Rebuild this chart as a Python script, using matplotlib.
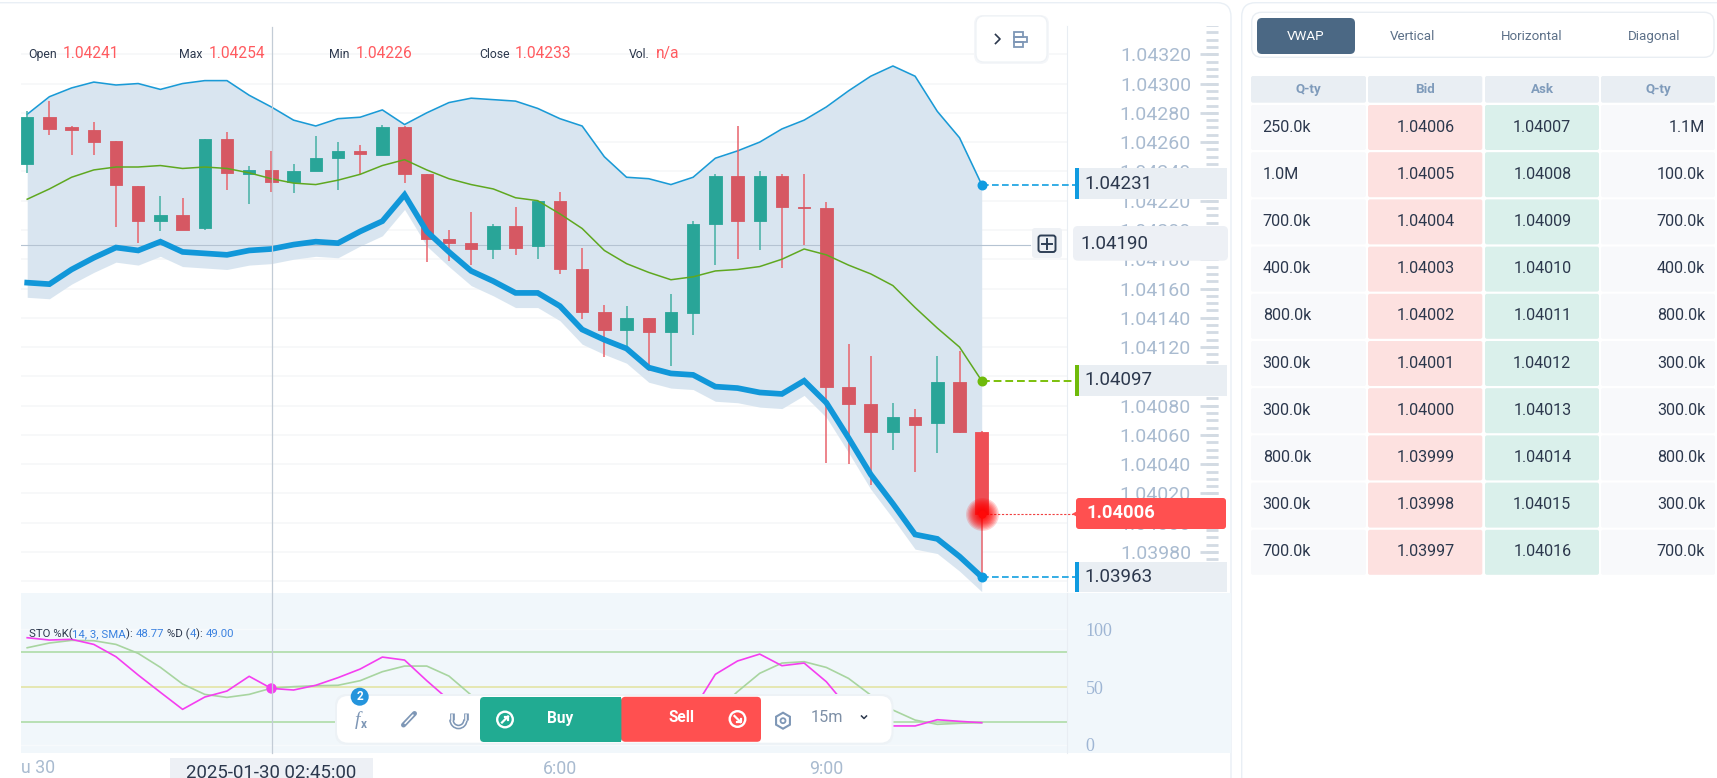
import numpy as np
import matplotlib
matplotlib.use('Agg')
import matplotlib.pyplot as plt
from matplotlib.patches import FancyBboxPatch, Rectangle, Circle, Arc, RegularPolygon

plt.rcParams['font.family'] = ['Roboto', 'DejaVu Sans']

# 15 minute candles, index 0 is 00:00
opens = [1.04245, 1.04277, 1.04270, 1.04268, 1.04261, 1.04230, 1.04206, 1.04210, 1.04201, 1.04262, 1.04238,
         1.04241, 1.04233, 1.04240, 1.04249, 1.04254, 1.04251, 1.04270, 1.04238, 1.04194, 1.04191, 1.04187,
         1.04203, 1.04189, 1.04220, 1.04173, 1.04144, 1.04132, 1.04140, 1.04130, 1.04143, 1.04204, 1.04237,
         1.04206, 1.04237, 1.04216, 1.04215, 1.04093, 1.04081, 1.04062, 1.04072, 1.04068, 1.04096, 1.04062]
closes = [1.04277, 1.04269, 1.04268, 1.04260, 1.04231, 1.04206, 1.04210, 1.04200, 1.04262, 1.04239, 1.04241,
          1.04233, 1.04240, 1.04249, 1.04254, 1.04252, 1.04270, 1.04238, 1.04194, 1.04191, 1.04187, 1.04203,
          1.04188, 1.04220, 1.04173, 1.04144, 1.04132, 1.04140, 1.04130, 1.04144, 1.04204, 1.04237, 1.04206,
          1.04237, 1.04216, 1.04215, 1.04093, 1.04081, 1.04062, 1.04072, 1.04067, 1.04096, 1.04062, 1.04006]
highs = [1.04281, 1.04288, 1.04271, 1.04274, 1.04261, 1.04230, 1.04223, 1.04222, 1.04262, 1.04267, 1.04244,
         1.04254, 1.04245, 1.04264, 1.04260, 1.04258, 1.04272, 1.04271, 1.04238, 1.04200, 1.04212, 1.04204,
         1.04216, 1.04220, 1.04226, 1.04188, 1.04149, 1.04148, 1.04140, 1.04156, 1.04206, 1.04238, 1.04271,
         1.04240, 1.04238, 1.04238, 1.04219, 1.04122, 1.04114, 1.04082, 1.04078, 1.04114, 1.04117, 1.04063]
lows = [1.04239, 1.04265, 1.04251, 1.04251, 1.04202, 1.04191, 1.04199, 1.04200, 1.04200, 1.04227, 1.04218,
        1.04226, 1.04225, 1.04240, 1.04227, 1.04238, 1.04251, 1.04232, 1.04178, 1.04179, 1.04176, 1.04180,
        1.04183, 1.04180, 1.04170, 1.04139, 1.04113, 1.04121, 1.04104, 1.04107, 1.04128, 1.04176, 1.04180,
        1.04186, 1.04174, 1.04190, 1.04041, 1.04040, 1.04026, 1.04050, 1.04035, 1.04048, 1.04061, 1.03963]

vwap_upper = [1.04279, 1.04291, 1.04297, 1.04301, 1.04299, 1.04300, 1.04296, 1.04300, 1.04302, 1.04302, 1.04292,
              1.04284, 1.04275, 1.04271, 1.04276, 1.04277, 1.04282, 1.04272, 1.04280, 1.04287, 1.04290, 1.04289,
              1.04288, 1.04283, 1.04276, 1.04271, 1.04250, 1.04236, 1.04235, 1.04231, 1.04236, 1.04249, 1.04254,
              1.04260, 1.04269, 1.04275, 1.04284, 1.04295, 1.04305, 1.04312, 1.04305, 1.04281, 1.04263, 1.04231]
vwap_mid = [1.04221, 1.04228, 1.04236, 1.04241, 1.04243, 1.04243, 1.04244, 1.04242, 1.04243, 1.04242, 1.04239,
            1.04235, 1.04232, 1.04231, 1.04234, 1.04238, 1.04244, 1.04248, 1.04241, 1.04235, 1.04231, 1.04228,
            1.04222, 1.04220, 1.04211, 1.04201, 1.04186, 1.04177, 1.04171, 1.04166, 1.04168, 1.04172, 1.04173,
            1.04175, 1.04180, 1.04187, 1.04183, 1.04176, 1.04170, 1.04162, 1.04147, 1.04133, 1.04120, 1.04097]
vwap_lower = [1.04164, 1.04163, 1.04173, 1.04181, 1.04188, 1.04186, 1.04192, 1.04185, 1.04184, 1.04183, 1.04186,
              1.04187, 1.04190, 1.04192, 1.04191, 1.04199, 1.04206, 1.04224, 1.04199, 1.04185, 1.04172, 1.04165,
              1.04157, 1.04157, 1.04148, 1.04132, 1.04125, 1.04119, 1.04106, 1.04102, 1.04101, 1.04093, 1.04092,
              1.04089, 1.04088, 1.04097, 1.04082, 1.04058, 1.04033, 1.04013, 1.03992, 1.03989, 1.03977, 1.03963]
band_floor = [1.04154, 1.04153, 1.04163, 1.04171, 1.04178, 1.04176, 1.04182, 1.04175, 1.04174, 1.04173, 1.04176,
              1.04177, 1.04180, 1.04182, 1.04181, 1.04189, 1.04196, 1.04214, 1.04189, 1.04175, 1.04162, 1.04155,
              1.04147, 1.04147, 1.04138, 1.04122, 1.04115, 1.04109, 1.04096, 1.04092, 1.04091, 1.04083, 1.04082,
              1.04079, 1.04078, 1.04087, 1.04072, 1.04048, 1.04023, 1.04003, 1.03982, 1.03979, 1.03967, 1.03953]

sto_k = [92.8, 90.8, 91.4, 87.0, 76.3, 60.4, 45.4, 30.6, 41.3, 46.5, 59.3, 48.77, 47.4, 51.5, 58.1, 65.6, 76.0, 73.4,
         55.5, 38.7, 28, 22, 20, 18, 18, 15, 14, 18, 20, 22, 30, 61.0, 72.6, 78.6, 68.5, 70.8, 54.6, 31.5, 20, 16.2,
         16.2, 21.6, 20.2, 19.0]
sto_d = [84.1, 88.2, 90.5, 90.2, 87.0, 79.2, 67.1, 52.6, 43.6, 41.0, 43.6, 49.0, 50.3, 51.1, 51.5, 55.5, 63.3, 68.2,
         68.2, 59.5, 43.0, 36, 30, 26, 22, 20, 18, 17, 17, 18, 20, 28, 46.0, 61.9, 70.8, 72.0, 67.0, 57.5, 43.0, 30.0,
         21.3, 17.6, 18.5, 19.0]

price_ticks = [1.0396, 1.0398, 1.0400, 1.0402, 1.0404, 1.0406, 1.0408, 1.0410, 1.0412, 1.0414, 1.0416, 1.0418,
               1.0420, 1.0422, 1.0424, 1.0426, 1.0428, 1.0430, 1.0432]
crosshair_idx = 11
crosshair_price = 1.04190
current_price = 1.04006

header_labels = ['Open', 'Max', 'Min', 'Close', 'Vol.']
header_values = ['1.04241', '1.04254', '1.04226', '1.04233', 'n/a']

tab_names = ['VWAP', 'Vertical', 'Horizontal', 'Diagonal']
table_cols = ['Q-ty', 'Bid', 'Ask', 'Q-ty']
bid_qty = ['250.0k', '1.0M', '700.0k', '400.0k', '800.0k', '300.0k', '300.0k', '800.0k', '300.0k', '700.0k']
bid_px = ['1.04006', '1.04005', '1.04004', '1.04003', '1.04002', '1.04001', '1.04000', '1.03999', '1.03998', '1.03997']
ask_px = ['1.04007', '1.04008', '1.04009', '1.04010', '1.04011', '1.04012', '1.04013', '1.04014', '1.04015', '1.04016']
ask_qty = ['1.1M', '100.0k', '700.0k', '400.0k', '800.0k', '300.0k', '300.0k', '800.0k', '300.0k', '700.0k']

W, H = 1717, 778
DARK = '#2c384d'
AXIS_TXT = '#a9bbd0'
ICON = '#7e97b6'
RED = '#d65863'
GREEN = '#29a598'
BLUE = '#1197d9'
LIME = '#5fa820'


def frac(x0, y0, x1, y1):
    return [x0 / W, 1 - y1 / H, (x1 - x0) / W, (y1 - y0) / H]


fig = plt.figure(figsize=(W / 100, H / 100), dpi=100, facecolor='white')

# page background, in pixels
bg = fig.add_axes([0, 0, 1, 1], zorder=0)
bg.set_xlim(0, W)
bg.set_ylim(H, 0)
bg.axis('off')

# everything that floats above the chart, in pixels
ui = fig.add_axes([0, 0, 1, 1], zorder=10)
ui.set_xlim(0, W)
ui.set_ylim(H, 0)
ui.axis('off')
ui.patch.set_alpha(0)


def rbox(axis, x0, y0, x1, y1, color, r=4, **kw):
    box = FancyBboxPatch((x0 + r, y0 + r), x1 - x0 - 2 * r, y1 - y0 - 2 * r,
                         boxstyle=f'round,pad={r},rounding_size={r}', fc=color,
                         ec=kw.pop('ec', 'none'), lw=kw.pop('lw', 0), **kw)
    axis.add_patch(box)
    return box


rbox(bg, -20, 2.7, 1231, 820, 'white', r=14, ec='#e9eff5', lw=1)
rbox(bg, 1241.7, 2.7, 1760, 820, 'white', r=14, ec='#e9eff5', lw=1)
bg.add_patch(Rectangle((21, 592.7), 1210, 160.3, fc='#f1f7fb', ec='none'))

# price panel
idx = np.arange(len(opens))
opens_a, closes_a = np.array(opens), np.array(closes)
up = closes_a >= opens_a

ax = fig.add_axes(frac(21, 26.3, 1066.5, 591.3), zorder=1)
ax.patch.set_alpha(0)
ax.set_xlim(-0.279, 46.82)
ax.set_ylim(1.039532, 1.043391)
for s in ['top', 'left', 'bottom']:
    ax.spines[s].set_visible(False)
ax.spines['right'].set_color('#e8edf3')
ax.set_xticks([])
ax.yaxis.tick_right()
ax.set_yticks(price_ticks, [f'{p:.5f}' for p in price_ticks])
ax.tick_params(axis='y', length=0, pad=89.6, labelsize=14, labelcolor=AXIS_TXT)
for lbl in ax.get_yticklabels():
    lbl.set_ha('right')
ax.grid(axis='y', color='#f5f6f8', lw=1.1, zorder=0)
ax.set_axisbelow(True)

ax.fill_between(idx, vwap_upper, band_floor, color='#d8e5f0', alpha=0.97, lw=0, zorder=1)
ax.axhline(crosshair_price, color='#b5c3d2', lw=0.8, zorder=2, xmax=0.965)
ax.plot(idx, vwap_upper, color='#1a9ad6', lw=1.15, zorder=3)
colors = [GREEN if u else RED for u in up]
colors[-1] = '#ee4f55'
wick_colors = ['#45b0a4' if u else '#e8636c' for u in up]
ax.vlines(idx, lows, highs, colors=wick_colors, lw=1.1, zorder=4)
ax.bar(idx, closes_a - opens_a, bottom=opens_a, width=0.56, color=colors, lw=0.6, edgecolor=colors,
       capstyle='round', joinstyle='round', zorder=5)
ax.plot(idx, vwap_mid, color=LIME, lw=1.1, zorder=6)
ax.plot(idx, vwap_lower, color=BLUE, lw=4.1, solid_joinstyle='miter', zorder=6)

# connectors to the axis boxes
last = idx[-1]
box_x = 47.2
ax.plot([last, box_x], [vwap_upper[-1]] * 2, color='#12a0e0', lw=1.2, dashes=(4, 2), clip_on=False, zorder=6)
ax.plot([last, box_x], [vwap_mid[-1]] * 2, color='#7cc00c', lw=1.4, dashes=(4, 2), clip_on=False, zorder=6)
ax.plot([last, box_x], [vwap_lower[-1]] * 2, color='#12a0e0', lw=1.2, dashes=(4, 2), clip_on=False, zorder=6)
ax.plot([last, box_x], [current_price] * 2, color='#f04040', lw=0.8, dashes=(2, 1.5), clip_on=False, zorder=6)
ax.scatter([last], [vwap_upper[-1]], s=38, color='#0f9be0', zorder=7, clip_on=False)
ax.scatter([last], [vwap_mid[-1]], s=38, color='#6fba0a', zorder=7, clip_on=False)
ax.scatter([last], [vwap_lower[-1]], s=38, color='#0f9be0', zorder=7, clip_on=False)
# glow around the live price
for size in [560, 470, 390, 320, 260, 210, 165, 125, 95, 70, 50]:
    ax.scatter([last], [current_price], s=size, color='#ff0000', alpha=0.17, lw=0, zorder=7)
ax.scatter([last], [current_price], s=36, color='#ff0808', lw=0, zorder=8)

# crosshair through both panels
ui.plot([271.7, 271.7], [27, 753], color='#c3ccd6', lw=0.9)

# stochastic panel
ax2 = fig.add_axes(frac(21, 592.7, 1066.5, 753), zorder=2)
ax2.patch.set_alpha(0)
ax2.set_xlim(-0.279, 46.82)
ax2.set_ylim(-7.3, 131.9)
for s in ['top', 'left', 'bottom']:
    ax2.spines[s].set_visible(False)
ax2.spines['right'].set_color('#e8edf3')
ax2.yaxis.tick_right()
ax2.set_yticks([0, 50, 100], ['0', '50', '100'])
ax2.tick_params(axis='y', length=0, pad=13.8, labelsize=13, labelcolor='#9fb6d4')
for lbl in ax2.get_yticklabels():
    lbl.set_fontfamily(['Liberation Serif'])
ax2.set_xticks([24, 36], ['6:00', '9:00'])
ax2.tick_params(axis='x', length=0, pad=5, labelsize=12.8, labelcolor=AXIS_TXT)
ax2.axhline(100, color='#f7fafc', lw=1)
ax2.axhline(0, color='#f7fafc', lw=1)
ax2.axhline(80, color='#a9d9a0', lw=1.1)
ax2.axhline(50, color='#e4e6ac', lw=1.3)
ax2.axhline(20, color='#a9d9a0', lw=1.1)
ax2.plot(idx, sto_d, color='#a8d5a0', lw=1.2)
ax2.plot(idx, sto_k, color='#f53ef0', lw=1.2)
ax2.scatter([crosshair_idx], [sto_k[crosshair_idx]], s=42, color='#f53ef0', zorder=5)

# header
header_x = [28.7, 178.7, 328.7, 478.8, 628.6]
value_x = [63, 208.6, 356, 515, 655.8]
for name, val, x0, x1 in zip(header_labels, header_values, header_x, value_x):
    ui.text(x0, 54.5, name, fontsize=8.8, color=DARK, va='center')
    ui.text(x1, 53, val, fontsize=11.2, color='#ff5a5f', va='center')

# sto legend, pieces in two colours
renderer = fig.canvas.get_renderer()
pieces = [('STO %K(', DARK), ('14, 3, SMA', '#3b82e0'), ('): ', DARK), ('48.77', '#3b82e0'), (' %D (', DARK),
          ('4', '#3b82e0'), ('): ', DARK), ('49.00', '#3b82e0')]
tx = 28.7
for piece, col in pieces:
    t = ui.text(tx, 634, piece, fontsize=8.2, color=col, va='center')
    tx += t.get_window_extent(renderer).width

# top right button
rbox(ui, 974, 15, 1049, 64, '#f4f6f9', r=9)
rbox(ui, 976, 16, 1047, 62, 'white', r=8, ec='#edf1f5', lw=0.8)
ui.plot([995.5, 1000, 995.5], [34.5, 39, 43.5], color=DARK, lw=1.2)
for y0, y1, x1 in [(32, 37, 1023), (37, 42, 1027), (42, 46.5, 1023)]:
    ui.add_patch(Rectangle((1014, y0), x1 - 1014, y1 - y0, fc='none', ec=ICON, lw=1.3))

# axis value boxes
for y0, y1, col, label in [(168.3, 199, '#0f9be0', '1.04231'), (365, 395.7, '#6fba0a', '1.04097'),
                           (561.7, 592, '#0f9be0', '1.03963')]:
    ui.add_patch(Rectangle((1074.5, y0), 152.3, y1 - y0, fc='#e9eef3', ec='none'))
    ui.add_patch(Rectangle((1074.5, y0), 4, y1 - y0, fc=col, ec='none'))
    ui.text(1084.5, (y0 + y1) / 2, label, fontsize=13.5, color=DARK, va='center')

rbox(ui, 1073, 226, 1228, 260.7, '#edf0f5', r=5)
ui.text(1080, 244, f'{crosshair_price:.5f}', fontsize=13.5, color=DARK, va='center')
rbox(ui, 1032, 228, 1062, 258, '#eef1f5', r=3)
rbox(ui, 1038.5, 235.5, 1055.5, 252, 'none', r=2.5, ec='#2e3f55', lw=1.4)
ui.plot([1047, 1047], [239, 248.5], color='#2e3f55', lw=1.4)
ui.plot([1042, 1052], [243.7, 243.7], color='#2e3f55', lw=1.4)

rbox(ui, 1076, 498, 1226, 529, '#ff5050', r=3)
ui.add_patch(RegularPolygon((1076.5, 514), 3, radius=4.5, orientation=np.pi / 2, fc='#ff5050', ec='none'))
ui.text(1086, 513.5, f'{current_price:.5f}', fontsize=13.2, color='white', weight='bold', va='center')

# x axis leftovers
ui.text(21, 768, 'u 30', fontsize=12.8, color=AXIS_TXT, va='center')
ui.add_patch(Rectangle((169.5, 758.3), 203.5, 30, fc='#edf0f5', ec='none'))
ui.text(271.5, 773, '2025-01-30 02:45:00', fontsize=13.4, color=DARK, ha='center', va='center')

# bottom toolbar
rbox(ui, 335, 694, 893.5, 744.7, '#edf2f6', r=12)
rbox(ui, 337, 696, 891.5, 742.7, 'white', r=11)
rbox(ui, 480, 697, 622, 742, '#21ab92', r=4)
ui.add_patch(Rectangle((490, 697), 130.5, 45, fc='#21ab92', ec='none'))
rbox(ui, 621.4, 696.8, 761, 741.8, '#ff5050', r=4)
ui.text(560.6, 718, 'Buy', fontsize=11.2, color='white', weight='bold', ha='center', va='center')
ui.text(681.7, 718, 'Sell', fontsize=11.2, color='white', weight='bold', ha='center', va='center')
for cx, cy, sx, sy in [(505, 719.5, 1, -1), (737.5, 719, 1, 1)]:
    ui.add_patch(Circle((cx, cy), 7.8, fc='none', ec='white', lw=1.7))
    ui.plot([cx - 3 * sx, cx + 3 * sx], [cy - 3 * sy, cy + 3 * sy], color='white', lw=1.6)
    ui.plot([cx - 0.5 * sx, cx + 3 * sx, cx + 3 * sx], [cy + 3 * sy, cy + 3 * sy, cy - 0.5 * sy], color='white', lw=1.6)
ui.add_patch(Circle((359.7, 696.7), 9, fc='#2494dc', ec='none', zorder=4))
ui.text(359.7, 696.7, '2', fontsize=8.5, color='white', weight='bold', ha='center', va='center', zorder=5)
ui.text(357, 720, 'f', fontsize=14, style='italic', color=ICON, ha='center', va='center', family=['Liberation Serif'])
ui.text(364, 724, 'x', fontsize=8.5, color=ICON, weight='bold', ha='center', va='center')
ui.plot([403.5, 414.5], [725, 713.5], color=ICON, lw=3.6, solid_capstyle='round')
ui.plot([405, 413], [723.5, 715], color='white', lw=1.1, solid_capstyle='round')
ui.add_patch(Arc((458.5, 719.5), 14, 15, theta1=0, theta2=180, ec=ICON, lw=3.4))
ui.plot([451.5, 451.5], [713, 719.5], color=ICON, lw=3.4, solid_capstyle='butt')
ui.plot([465.5, 465.5], [713, 719.5], color=ICON, lw=3.4, solid_capstyle='butt')
ui.add_patch(Arc((458.5, 719.5), 14, 15, theta1=0, theta2=180, ec='white', lw=1.1))
ui.plot([451.5, 451.5], [714.5, 719.5], color='white', lw=1.1)
ui.plot([465.5, 465.5], [714.5, 719.5], color='white', lw=1.1)
ui.add_patch(RegularPolygon((783, 720.7), 6, radius=8, fc='none', ec=ICON, lw=1.5))
ui.add_patch(Circle((783, 720.7), 2.5, fc='none', ec=ICON, lw=1.3))
ui.text(826.8, 718, '15m', fontsize=11.7, color='#7d8fa6', ha='center', va='center')
ui.plot([861.5, 864, 866.5], [716, 718.5, 716], color=DARK, lw=1.1)

# right side panel
rbox(ui, 1251.7, 12.3, 1714, 57.3, 'white', r=10, ec='#e9eef3', lw=1)
rbox(ui, 1257, 18, 1355, 54, '#4b6884', r=5)
for name, cx, col in zip(tab_names, [1306, 1412.7, 1531.7, 1654], ['white', '#5c7088', '#5c7088', '#5c7088']):
    ui.text(cx, 36, name, fontsize=9.6, color=col, ha='center', va='center')

col_edges = [(1251, 1366), (1368, 1482.3), (1485, 1599), (1601, 1715)]
cell_bg = ['#f8f9fb', '#fde1e0', '#daf0eb', '#f8f9fb']
for (x0, x1), name in zip(col_edges, table_cols):
    rbox(ui, x0, 76, x1, 102.7, '#e9eef3', r=2)
    ui.text((x0 + x1) / 2, 89, name, fontsize=9.6, color='#7f9bbb', weight='bold', ha='center', va='center')
for row in range(len(bid_px)):
    y0 = 105 + row * 47.2
    y1 = y0 + 45
    yc = (y0 + y1) / 2 - 0.5
    for (x0, x1), fill in zip(col_edges, cell_bg):
        rbox(ui, x0, y0, x1, y1, fill, r=2)
    ui.text(1262.7, yc, bid_qty[row], fontsize=11.6, color=DARK, va='center')
    ui.text(1425.7, yc, bid_px[row], fontsize=11.6, color=DARK, ha='center', va='center')
    ui.text(1542.3, yc, ask_px[row], fontsize=11.6, color=DARK, ha='center', va='center')
    ui.text(1705, yc, ask_qty[row], fontsize=11.6, color=DARK, ha='right', va='center')

# ruler next to the price labels
ruler = fig.add_axes(frac(1195, 26.3, 1225, 591.3), zorder=3)
ruler.patch.set_alpha(0)
ruler.set_ylim(ax.get_ylim())
ruler.set_xlim(0, 30)
ruler.axis('off')
minor_ticks = np.arange(1.03950, 1.04340, 0.00005)
ruler.hlines(minor_ticks, 11, 23, color='#d3dbe3', lw=2)
ruler.hlines(price_ticks, 5, 23, color='#d3dbe3', lw=2)

fig.savefig('out.png', dpi=100)
